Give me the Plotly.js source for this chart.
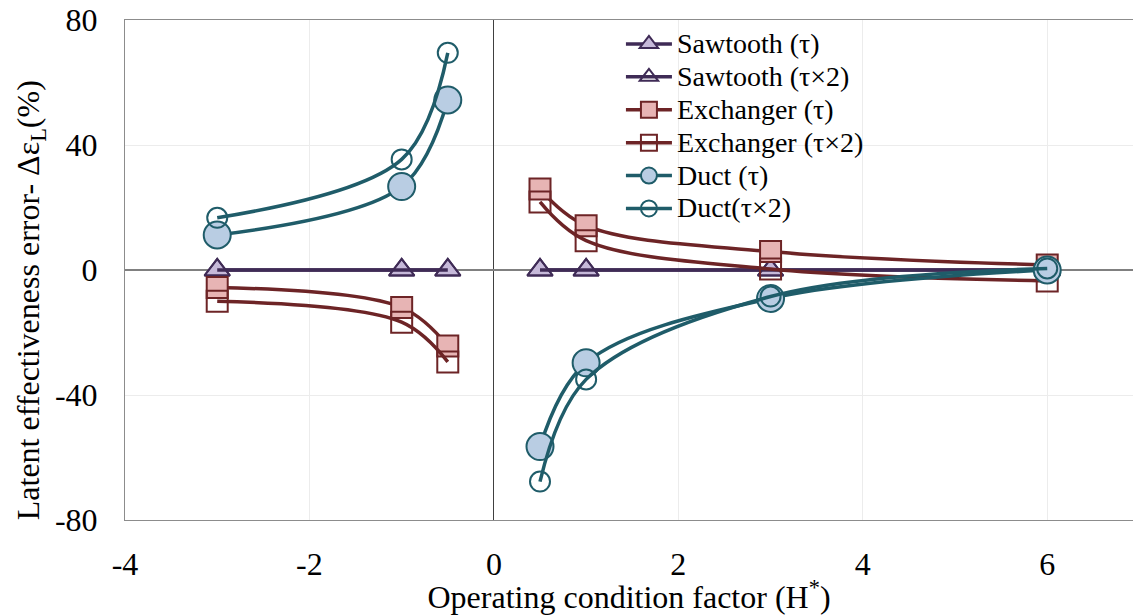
<!DOCTYPE html>
<html>
<head>
<meta charset="utf-8">
<script src="https://cdn.plot.ly/plotly-3.0.1.min.js"></script>
<style>
  html, body { margin: 0; padding: 0; background: #ffffff; }
  #chart { width: 1133px; height: 615px; }
</style>
</head>
<body>
<div id="chart"></div>
<script>
// ---- data ----
var xNeg = [-3, -1, -0.5];
var xPos = [0.5, 1, 3, 6];

var sawtoothTauNeg = [0, 0, 0];
var sawtoothTauPos = [0, 0, 0, 0];
var sawtooth2TauNeg = [0, 0, 0];
var sawtooth2TauPos = [0, 0, 0, 0];

var exchangerTauNeg = [-5.6, -12.0, -24.3];
var exchangerTauPos = [25.9, 14.2, 5.9, 1.6];
var exchanger2TauNeg = [-10.0, -16.7, -29.4];
var exchanger2TauPos = [21.8, 9.4, 0.3, -3.5];

var ductTauNeg = [11.2, 26.7, 54.4];
var ductTauPos = [-56.5, -29.7, -9.1, 0.0];
var duct2TauNeg = [16.7, 35.4, 69.5];
var duct2TauPos = [-67.7, -35.0, -8.5, 0.5];

var seriesNames = ['Sawtooth (τ)', 'Sawtooth (τ×2)', 'Exchanger (τ)', 'Exchanger (τ×2)', 'Duct (τ)', 'Duct(τ×2)'];
var xTickVals = [-4, -2, 0, 2, 4, 6];
var yTickVals = [-80, -40, 0, 40, 80];

// ---- styling ----
var FONT = 'Liberation Serif';
var sawLine = '#3f2b56', sawFill = '#c6b9d9';
var excLine = '#6d2426', excFill = '#e7b4b4';
var ductLine = '#1f5c69', ductFill = '#b9cde3';
var noFill = 'rgba(255,255,255,0)';

function joinX() { return xNeg.concat([null], xPos); }
function joinY(a, b) { return a.concat([null], b); }

function trace(name, yNeg, yPos, color, fill, symbol, size, shape) {
  return {
    type: 'scatter', mode: 'lines+markers', name: '<span style="font-size:28px">' + name + '</span>',
    x: joinX(), y: joinY(yNeg, yPos), connectgaps: false,
    line: { color: color, width: 3.5, shape: shape, smoothing: 1 },
    marker: { symbol: symbol, size: size, color: fill, line: { color: color, width: 2 } },
    cliponaxis: false
  };
}

var data = [
  trace(seriesNames[0], sawtoothTauNeg, sawtoothTauPos, sawLine, sawFill, 'triangle-up', 22, 'linear'),
  trace(seriesNames[1], sawtooth2TauNeg, sawtooth2TauPos, sawLine, noFill, 'triangle-up', 22, 'linear'),
  trace(seriesNames[2], exchangerTauNeg, exchangerTauPos, excLine, excFill, 'square', 21, 'spline'),
  trace(seriesNames[3], exchanger2TauNeg, exchanger2TauPos, excLine, noFill, 'square', 21, 'spline'),
  trace(seriesNames[4], ductTauNeg, ductTauPos, ductLine, ductFill, 'circle', 27, 'spline'),
  trace(seriesNames[5], duct2TauNeg, duct2TauPos, ductLine, noFill, 'circle', 20, 'spline')
];

var layout = {
  width: 1133, height: 615,
  margin: { l: 125, r: 0, t: 20, b: 95 },
  paper_bgcolor: '#ffffff', plot_bgcolor: '#ffffff',
  font: { family: FONT, size: 32, color: '#000000' },
  showlegend: true,
  legend: {
    x: 0.492, y: 0.995, xanchor: 'left', yanchor: 'top',
    bgcolor: 'rgba(0,0,0,0)', borderwidth: 0,
    font: { family: FONT, size: 23, color: '#000000' },
    itemwidth: 46, tracegroupgap: 0
  },
  xaxis: {
    range: [-4, 6.93], tickvals: xTickVals, ticktext: xTickVals.map(String),
    showgrid: true, gridcolor: '#ececec', gridwidth: 1,
    zeroline: true, zerolinecolor: '#404040', zerolinewidth: 1,
    showline: true, linecolor: '#8c8c8c', linewidth: 1, mirror: true,
    ticks: '', ticklabelstandoff: 16,
    tickfont: { family: FONT, size: 32, color: '#000000' },
    title: { text: 'Operating condition factor (H<sup>*</sup>)', font: { family: FONT, size: 32, color: '#000000' }, standoff: 2 }
  },
  yaxis: {
    range: [-80, 80], tickvals: yTickVals, ticktext: yTickVals.map(String),
    showgrid: true, gridcolor: '#ececec', gridwidth: 1,
    zeroline: true, zerolinecolor: '#808080', zerolinewidth: 2,
    showline: true, linecolor: '#8c8c8c', linewidth: 1, mirror: true,
    ticks: '', ticklabelstandoff: 20,
    tickfont: { family: FONT, size: 32, color: '#000000' }
  },
  annotations: [{
    text: 'Latent effectiveness error- Δε<sub>L</sub>(%)',
    xref: 'paper', yref: 'paper', x: -0.094, y: 0.44,
    xanchor: 'center', yanchor: 'middle', textangle: -90, showarrow: false,
    font: { family: FONT, size: 32, color: '#000000' }
  }]
};

Plotly.newPlot('chart', data, layout, { displayModeBar: false, staticPlot: true });
</script>
</body>
</html>
